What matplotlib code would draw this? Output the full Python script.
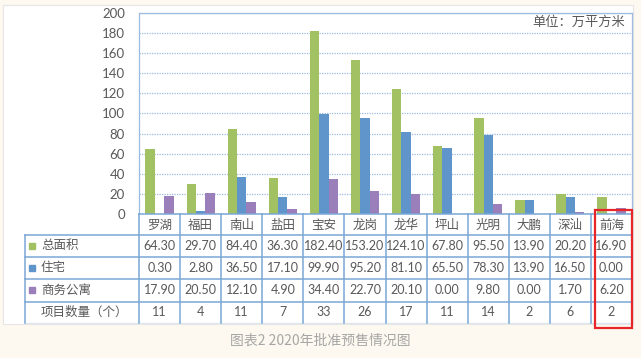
import matplotlib
matplotlib.use("Agg")
import matplotlib.pyplot as plt
from matplotlib.patches import Rectangle

plt.rcParams['font.family'] = ['Noto Sans CJK SC', 'DejaVu Sans']

# data
districts = ['罗湖', '福田', '南山', '盐田', '宝安', '龙岗', '龙华', '坪山', '光明', '大鹏', '深汕', '前海']
total_area = [64.30, 29.70, 84.40, 36.30, 182.40, 153.20, 124.10, 67.80, 95.50, 13.90, 20.20, 16.90]
housing = [0.30, 2.80, 36.50, 17.10, 99.90, 95.20, 81.10, 65.50, 78.30, 13.90, 16.50, 0.00]
office_apt = [17.90, 20.50, 12.10, 4.90, 34.40, 22.70, 20.10, 0.00, 9.80, 0.00, 1.70, 6.20]
project_count = [11, 4, 11, 7, 33, 26, 17, 11, 14, 2, 6, 2]

series_names = ['总面积', '住宅', '商务公寓']
series_vals = [total_area, housing, office_apt]
colors = ['#a2c163', '#5f95cb', '#9a7fba']

W, H = 641, 358
fig = plt.figure(figsize=(W / 100, H / 100), dpi=100)
fig.patch.set_facecolor('#fdf9f0')

def fx(px):
    return px / W

def fy(py):
    return 1 - py / H

# white panel behind everything
fig.patches.append(Rectangle((fx(3), fy(324)), fx(633) - fx(3), fy(5) - fy(324),
                             transform=fig.transFigure, facecolor='white',
                             edgecolor='#e6e6e6', lw=0.8, zorder=-5))

left, right, top, zero = 139, 632, 13, 214
cw = (right - left) / len(districts)

ax = fig.add_axes([fx(left), fy(zero), fx(right) - fx(left), fy(top) - fy(zero)])
ax.set_facecolor('none')
bw = 0.228
for k, (vals, c) in enumerate(zip(series_vals, colors)):
    xs = [i + (k - 1) * bw for i in range(len(districts))]
    ax.bar(xs, vals, width=bw, color=c, zorder=3)
ax.set_xlim(-0.5, len(districts) - 0.5)
ax.set_ylim(0, 200)
ax.set_yticks(range(0, 201, 20))
ax.set_xticks([])
ax.tick_params(axis='y', length=0, pad=10, labelsize=9.5, labelcolor='#595959')
for lab in ax.get_yticklabels():
    lab.set_family(['Lato', 'DejaVu Sans'])
ax.grid(axis='y', color='#9dbbdf', linestyle=(0, (1, 1)), lw=0.9, zorder=0)
ax.spines['bottom'].set_visible(False)
for s in ['left', 'top', 'right']:
    ax.spines[s].set_color('#9dbbdf')
    ax.spines[s].set_linestyle((0, (1, 1)))
    ax.spines[s].set_linewidth(0.9)
ax.text(0.985, 0.955, '单位：万平方米', transform=ax.transAxes, ha='right', va='center',
        fontsize=9.5, color='#595959')

# data table below the bars
tl, tb = 25, 323
rows = [214, 235, 257, 279, 302, 323]
tab = fig.add_axes([fx(tl), fy(tb), fx(right) - fx(tl), fy(zero) - fy(tb)])
tab.set_facecolor('none')
x0 = -0.5 - (left - tl) / cw
tab.set_xlim(x0, len(districts) - 0.5)
tab.set_ylim(tb, zero)
tab.axis('off')
line_c = '#7ba7d6'

for y in rows[:-1]:
    xstart = -0.5 if y == rows[0] else x0
    tab.plot([xstart, len(districts) - 0.5], [y, y], color=line_c, lw=1.1, clip_on=False)
tab.plot([x0, len(districts) - 0.5], [rows[-1], rows[-1]], color='#dfe6ee', lw=1, clip_on=False)
for j in range(len(districts) + 1):
    tab.plot([j - 0.5, j - 0.5], [rows[0], rows[-1]], color=line_c, lw=1.1, clip_on=False)
tab.plot([x0, x0], [rows[1], rows[-1]], color=line_c, lw=1.1, clip_on=False)

mid = [(rows[r] + rows[r + 1]) / 2 for r in range(5)]
for i, name in enumerate(districts):
    tab.text(i, mid[0] + 0.5, name, ha='center', va='center', fontsize=9, color='#595959')

num_font = ['Lato', 'Noto Sans CJK SC']
lab_x = x0 + (41 - tl) / cw
sq_x = x0 + (32 - tl) / cw
for r, (nm, vals, c) in enumerate(zip(series_names, series_vals, colors)):
    y = mid[r + 1]
    tab.plot(sq_x, y - 0.5, marker='s', ms=5, color=c, clip_on=False)
    tab.text(lab_x, y, nm, ha='left', va='center', fontsize=9, color='#595959')
    for i, v in enumerate(vals):
        tab.text(i, y, f'{v:.2f}', ha='center', va='center', fontsize=9,
                 color='#595959', family=num_font)
tab.text(lab_x, mid[4], '项目数量（个）', ha='left', va='center', fontsize=9, color='#595959')
for i, v in enumerate(project_count):
    tab.text(i, mid[4], str(v), ha='center', va='center', fontsize=9,
             color='#595959', family=num_font)

# red highlight around the last column
fig.patches.append(Rectangle((fx(595), fy(328)), fx(632) - fx(595), fy(210) - fy(328),
                             transform=fig.transFigure, facecolor='none',
                             edgecolor='#e8262a', lw=1.6, zorder=10))

fig.text(0.5, fy(341), '图表2 2020年批准预售情况图', ha='center', va='center',
         fontsize=10, color='#a6a6a6')

fig.savefig('out.png', dpi=100, facecolor=fig.get_facecolor())
